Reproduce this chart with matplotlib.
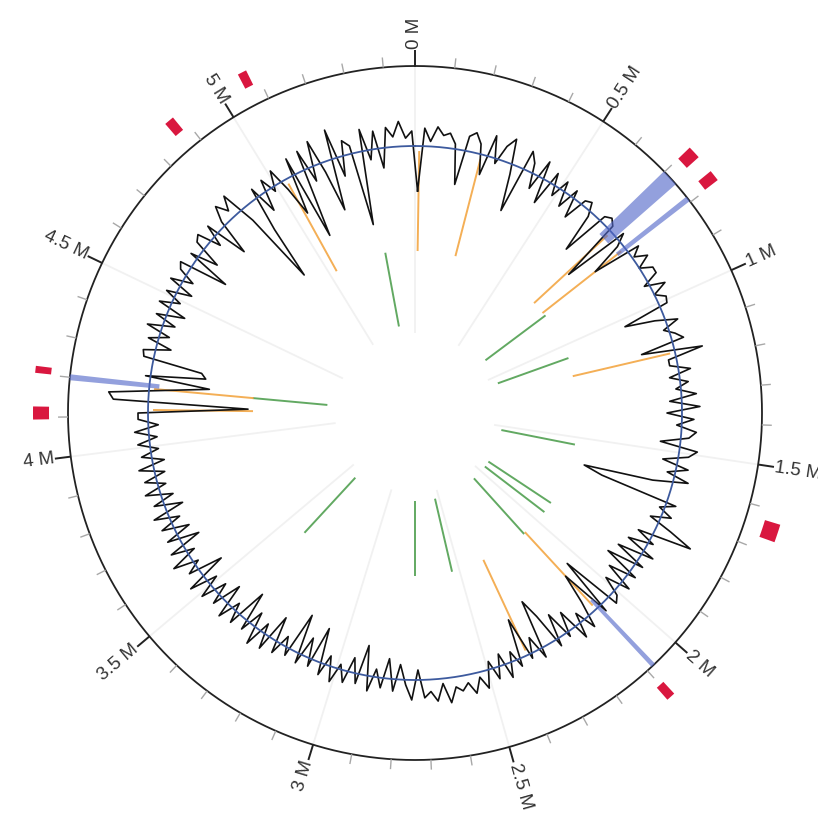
import numpy as np
import matplotlib

matplotlib.use("Agg")
import matplotlib.pyplot as plt

plt.rcParams["font.family"] = ["Liberation Sans", "DejaVu Sans"]

GENOME_MB = 5.48
WINDOW_MB = 0.02

# GC deviation per 20 kb window (px-like units, + = outward)
gc_dev = [
    -45, 18, 5, 20, 12,     15, 5, -35, 15, 20,     10, -20, 22, -5, 15,
    25, -10, -47, 20, 10,   -15, 18, -25, 12, -10,  10, -15, 8, -20, 5,
    8, -5, -44, 6, 10,      5, -60, 8, -5, -38,     12, 2, 14, 0, 12,
    12, -5, 15, 0, 10,      8, -40, -10, 12, -5,    5, 12, -33, 28, -8,
    -8, 12, -10, 8, -5,     15, -12, 18, -15, 12,   -5, 15, 8, -20, 18,
    10, -15, 12, -8, 15,    -20, -90, -70, 10, -5,  10, -10, 15, 40, -15,
    5, -20, 12, -25, 8,     -30, 8, -20, 10, -15,   5, 10, -53, 8, -45,
    -15, 12, -10, 15, -20,  5, -25, 8, -30, -50,    10, -15, 5, -40, 8,
    -10, 15, -12, 12, -8,   18, 5, 20, 8, 15,       10, 25, 5, 22, 12,
    18, -10, 20, 5, -15,    12, -20, 10, -8, 15,    -30, 10, -15, 12, -5,
    15, -10, 12, -35, 8,    -20, 10, -40, 8, -10,   12, -25, 15, -10, 18,
    -15, 10, -30, 12, -8,   15, -20, 10, -12, 14,   -10, 18, -25, 10, -5,
    20, -8, 15, -20, 12,    -15, 12, -10, 15, -18,  10, -12, 15, -8, 12,
    -10, 15, -12, 10, -8,   12, -8, 14, -10, 10,    10, -100, 35, 40, -20,
    -60, 5, -55, -50, 10,   12, -15, 10, -10, 15,   -12, 10, -18, 12, -8,
    10, -15, 12, -10, 8,    12, -38, 8, -20, 10,    14, -10, 12, -32, 5,
    20, 8, 22, -15, -90,    -36, 10, -20, 12, -5,   15, -10, -40, 18, -70,
    20, -15, 25, -10, -52,  30, -20, 15, 8, -74,    22, -10, 18, -20, 20,
    10, 25, 8, 15,
]

green_mb = [0.81, 1.07, 1.54, 1.88, 1.94, 2.10, 2.54, 2.74, 3.39, 4.19, 5.32]
orange_mb = [0.014, 0.22, 0.72, 0.79, 1.17, 2.09, 2.36, 4.12, 4.19, 5.04]
blue_mb = [0.72, 0.79, 2.08, 4.20]
blue_len = [0.044, 0.014, 0.012, 0.015]
red_mb = [0.715, 0.785, 1.65, 2.10, 4.11, 4.21, 4.87, 5.07]
red_len = [0.030, 0.026, 0.042, 0.021, 0.030, 0.016, 0.023, 0.021]

major_mb = [0, 0.5, 1, 1.5, 2, 2.5, 3, 3.5, 4, 4.5, 5]

R_AX = 405
R_OUT = 347
R_GC = 267


def ang(mb):
    return np.asarray(mb, dtype=float) / GENOME_MB * 2 * np.pi


fig = plt.figure(figsize=(8.18, 8.19), dpi=100)
ax = fig.add_axes([10 / 818, 1 / 819, 810 / 818, 810 / 819], projection="polar")
ax.set_theta_zero_location("N")
ax.set_theta_direction(-1)
ax.set_ylim(0, R_AX)
ax.set_xticks([]); ax.set_yticks([])
ax.grid(False)
ax.spines["polar"].set_visible(False)
ax.patch.set_visible(False)

# faint grid spokes every 0.5 Mb
ax.vlines(ang(major_mb), 80, R_OUT, color="#f1f1f1", lw=1.3, zorder=1)

# inner feature tracks
ax.vlines(ang(green_mb), 88, 163, color="#62a962", lw=1.4, zorder=2)
ax.vlines(ang(orange_mb), 162, 262, color="#f3a643", lw=1.4, alpha=0.9, zorder=2)

# GC line around the blue baseline
pos = np.arange(len(gc_dev)) * WINDOW_MB + WINDOW_MB / 2
th = np.append(ang(pos), ang(pos[0]) + 2 * np.pi)
rr = np.append(R_GC + np.array(gc_dev, float), R_GC + gc_dev[0])
ax.plot(th, rr, color="#111111", lw=1.2, zorder=4)

circ = np.linspace(0, 2 * np.pi, 1441)
ax.plot(circ, np.full_like(circ, R_GC), color="#3d5a9e", lw=1.3, zorder=5)
ax.plot(circ, np.full_like(circ, R_OUT), color="#222222", lw=1.3, zorder=5)

# highlighted regions across the outer band
ax.bar(ang(blue_mb), R_OUT - 257, width=ang(blue_len), bottom=257,
       color="#5166c8", alpha=0.62, edgecolor="none", zorder=6)

# red blocks outside the ring
ax.bar(ang(red_mb), 16, width=ang(red_len), bottom=366,
       color="#d9173f", edgecolor="none", zorder=6)

# ticks
minor = [m / 10 for m in range(int(GENOME_MB * 10) + 1) if m % 5]
ax.vlines(ang(minor), R_OUT, R_OUT + 10, color="#a8a8a8", lw=1.0, zorder=5)
ax.vlines(ang(major_mb), R_OUT, R_OUT + 16, color="#222222", lw=1.4, zorder=5)

for mb in major_mb:
    a = mb / GENOME_MB * 360
    label = f"{mb:g} M"
    if a <= 180:
        rot, ha = 90 - a, "left"
    else:
        rot, ha = 270 - a, "right"
    ax.text(np.deg2rad(a), R_OUT + 17, label, rotation=rot, rotation_mode="anchor",
            ha=ha, va="center", fontsize=13.5, color="#333333")

fig.savefig("out.png", dpi=100)
